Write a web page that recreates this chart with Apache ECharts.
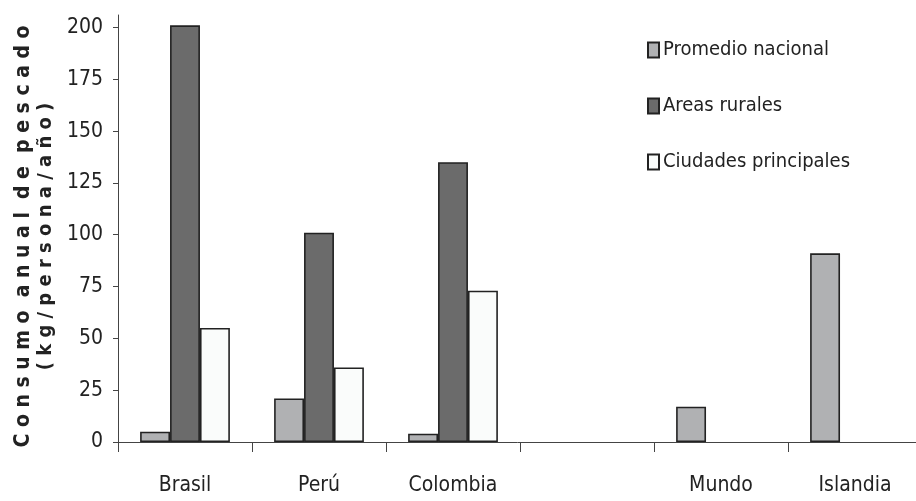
<!DOCTYPE html>
<html><head><meta charset="utf-8">
<script src="https://cdn.jsdelivr.net/npm/echarts@6/dist/echarts.min.js"></script>
<style>html,body{margin:0;padding:0;background:#fff}#c{width:916px;height:501px}</style>
</head><body><div id="c"></div>
<script>
const categories = ['Brasil', 'Perú', 'Colombia', '', 'Mundo', 'Islandia'];
const promedioNacional = [5, 21, 4, null, 17, 91];
const areasRurales = [201, 101, 135, null, null, null];
const ciudadesPrincipales = [55, 36, 73, null, null, null];
const seriesNames = ['Promedio nacional', 'Areas rurales', 'Ciudades principales'];
const yTickValues = [0, 25, 50, 75, 100, 125, 150, 175, 200];
const yAxisMax = 206;

const FONT = '"Liberation Sans Narrow", "DejaVu Sans Condensed", "Roboto Condensed", "Liberation Sans", Arial, sans-serif';
const border = { borderColor: '#222', borderWidth: 1.6 };
const chart = echarts.init(document.getElementById('c'), null, { renderer: 'canvas' });
chart.setOption({
  animation: false,
  backgroundColor: '#fff',
  grid: { left: 118, top: 15, bottom: 59, width: 804, outerBoundsMode: 'none', containLabel: false },
  legend: {
    orient: 'vertical', left: 642, top: 35, itemGap: 36,
    icon: 'rect', itemWidth: 11, itemHeight: 15,
    textStyle: { fontFamily: FONT, fontSize: 20, color: '#222', padding: [0, 0, 0, -1] },
    data: seriesNames
  },
  xAxis: {
    type: 'category', data: categories,
    axisLine: { lineStyle: { color: '#444', width: 1 } },
    axisTick: { show: true, length: 10, lineStyle: { color: '#444' } },
    axisLabel: { fontFamily: FONT, fontSize: 21, color: '#222', margin: 33 }
  },
  yAxis: {
    type: 'value', min: 0, max: yAxisMax,
    splitLine: { show: false },
    axisLine: { show: true, lineStyle: { color: '#444', width: 1 } },
    axisTick: { show: true, length: 5, lineStyle: { color: '#444' }, customValues: yTickValues },
    axisLabel: { fontFamily: FONT, fontSize: 21, color: '#222', margin: 15, customValues: yTickValues },
    name: '{a|C o n s u m o  a n u a l  d e  p e s c a d o}\n{b|( k g / p e r s o n a / a ñ o )}',
    nameLocation: 'middle', nameRotate: 90, nameGap: 58,
    nameTextStyle: {
      padding: [0, 16, 0, 0],
      rich: {
        a: { fontFamily: FONT, fontWeight: 'bold', fontSize: 21, color: '#222', lineHeight: 24 },
        b: { fontFamily: FONT, fontWeight: 'bold', fontSize: 20, color: '#222', lineHeight: 22 }
      }
    }
  },
  series: [
    { name: seriesNames[0], type: 'bar', data: promedioNacional, barGap: '0%', barCategoryGap: '33%',
      itemStyle: Object.assign({ color: '#b0b1b3' }, border) },
    { name: seriesNames[1], type: 'bar', data: areasRurales,
      itemStyle: Object.assign({ color: '#6b6b6b' }, border) },
    { name: seriesNames[2], type: 'bar', data: ciudadesPrincipales,
      itemStyle: Object.assign({ color: '#fafcfb' }, border) }
  ]
});
</script></body></html>
